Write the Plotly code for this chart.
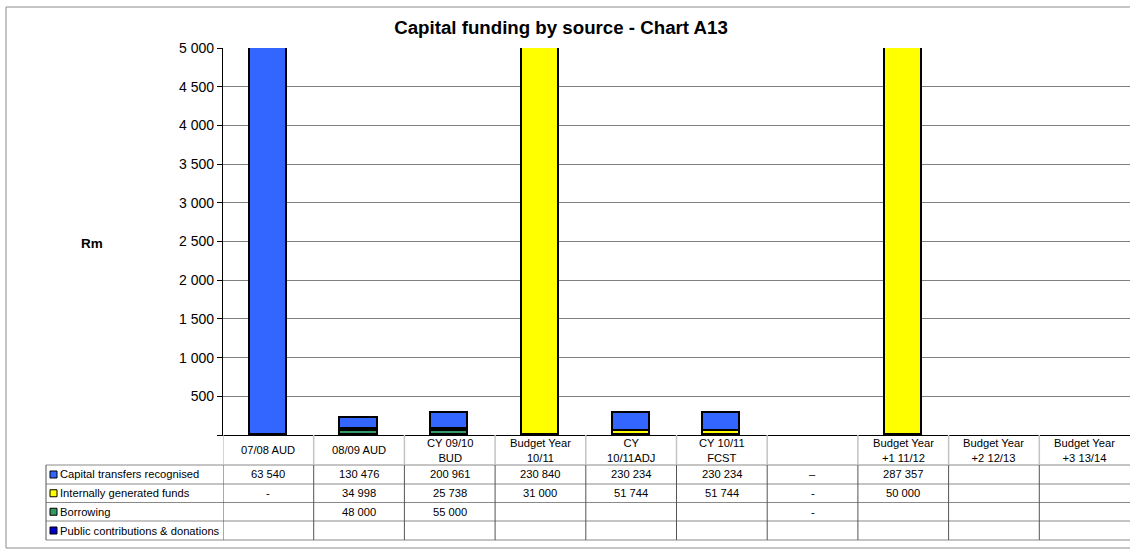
import plotly.graph_objects as go

# Column headings of the data table (one per bar position)
categories = [
    "07/08 AUD", "08/09 AUD", "CY 09/10<br>BUD", "Budget Year<br>10/11",
    "CY<br>10/11ADJ", "CY 10/11<br>FCST", "", "Budget Year<br>+1 11/12",
    "Budget Year<br>+2 12/13", "Budget Year<br>+3 13/14",
]

# Funding by source as captured on the sheet (None = blank cell, 0 = dash)
capital_transfers = [63540, 130476, 200961, 230840, 230234, 230234, 0, 287357, None, None]
internal_funds = [0, 34998, 25738, 31000, 51744, 51744, 0, 50000, None, None]
borrowing = [None, 48000, 55000, None, None, None, 0, None, None, None]
public_contributions = [None, None, None, None, None, None, None, None, None, None]

# The sheet feeds some columns to the chart in R'000 and others already in Rm
plot_divisor = [1, 1000, 1000, 1, 1000, 1000, 1000, 1, 1000, 1000]

series_names = [
    "Capital transfers recognised",
    "Internally generated funds",
    "Borrowing",
    "Public contributions & donations",
]
series_colors = ["#3366FF", "#FFFF00", "#339966", "#0000CC"]
series_values = [capital_transfers, internal_funds, borrowing, public_contributions]
dash_glyph = ["\u2013", "-", "-", "-"]

y_ticks = [0, 500, 1000, 1500, 2000, 2500, 3000, 3500, 4000, 4500, 5000]

FONT = "Arial, 'Liberation Sans', sans-serif"
W, H = 1130, 552
L, T, B = 223, 48, 435          # plot area edges in pixels
PW, PH = W - L, B - T
TXT = 11.2


def px_x(px):
    return (px - L) / PW


def px_y(py):
    return (B - py) / PH


def scaled(vals):
    # dashes and blanks draw no segment
    return [None if not v else v / d for v, d in zip(vals, plot_divisor)]


def fmt(v, dash):
    if v is None:
        return ""
    if v == 0:
        return dash
    return f"{v:,}".replace(",", " ")


x = list(range(len(categories)))
fig = go.Figure()

# stacked bottom to top: borrowing, internal funds, capital transfers, contributions
for idx in [2, 1, 0, 3]:
    fig.add_trace(go.Bar(
        x=x, y=scaled(series_values[idx]), name=series_names[idx],
        marker=dict(color=series_colors[idx], line=dict(color="black", width=1.6)),
        width=0.41, showlegend=False,
    ))

shapes = []
annotations = []

# outer chart border (right side runs past the page edge)
shapes.append(dict(type="rect", xref="paper", yref="paper",
                   x0=px_x(6), x1=px_x(1140), y0=px_y(548), y1=px_y(7),
                   line=dict(color="#8c8c8c", width=1), layer="below"))

# data table grid
row_edges = [465, 484, 502.5, 521, 540]
for py in row_edges:
    shapes.append(dict(type="line", xref="paper", yref="paper",
                       x0=px_x(46), x1=1, y0=px_y(py), y1=px_y(py),
                       line=dict(color="#8a8a8a", width=1)))
shapes.append(dict(type="line", xref="paper", yref="paper",
                   x0=px_x(46), x1=px_x(46), y0=px_y(465), y1=px_y(540),
                   line=dict(color="#555555", width=1)))
for i in range(len(categories)):
    xb = i - 0.5
    shapes.append(dict(type="line", xref="x", yref="paper",
                       x0=xb, x1=xb, y0=px_y(435), y1=px_y(465),
                       line=dict(color="#c4c4c4", width=1.5)))
    shapes.append(dict(type="line", xref="x", yref="paper",
                       x0=xb, x1=xb, y0=px_y(465), y1=px_y(540),
                       line=dict(color="#555555", width=1)))

# header row labels
for i, c in enumerate(categories):
    annotations.append(dict(text=c, x=i, y=px_y(450), xref="x", yref="paper",
                            showarrow=False, xanchor="center", yanchor="middle",
                            font=dict(family=FONT, size=TXT, color="black")))

# series rows: legend key, name and values
for r, (name, color, vals) in enumerate(zip(series_names, series_colors, series_values)):
    yc = (row_edges[r] + row_edges[r + 1]) / 2
    shapes.append(dict(type="rect", xref="paper", yref="paper",
                       x0=px_x(50), x1=px_x(57), y0=px_y(yc + 3.5), y1=px_y(yc - 3.5),
                       fillcolor=color, line=dict(color="black", width=1)))
    annotations.append(dict(text=name, x=px_x(58), y=px_y(yc), xref="paper", yref="paper",
                            showarrow=False, xanchor="left", yanchor="middle",
                            font=dict(family=FONT, size=TXT, color="black")))
    for i, v in enumerate(vals):
        t = fmt(v, dash_glyph[r])
        if t:
            annotations.append(dict(text=t, x=i, y=px_y(yc), xref="x", yref="paper",
                                    showarrow=False, xanchor="center", yanchor="middle",
                                    font=dict(family=FONT, size=TXT, color="black")))

# axis title
annotations.append(dict(text="<b>Rm</b>", x=px_x(92), y=px_y(243), xref="paper", yref="paper",
                        showarrow=False, xanchor="center", yanchor="middle",
                        font=dict(family=FONT, size=13.5, color="black")))

fig.update_layout(
    width=W, height=H,
    margin=dict(l=L, r=0, t=T, b=H - B, pad=0),
    paper_bgcolor="white", plot_bgcolor="white",
    barmode="stack", bargap=0,
    title=dict(text="<b>Capital funding by source - Chart A13</b>",
               x=561 / W, xanchor="center",
               y=1 - 27 / H, yanchor="middle",
               font=dict(family=FONT, size=18.7, color="black")),
    shapes=shapes, annotations=annotations,
    xaxis=dict(range=[-0.5, len(categories) - 0.5], showticklabels=False,
               showline=True, linecolor="black", linewidth=1.2,
               showgrid=False, zeroline=False, ticks=""),
    yaxis=dict(range=[0, 5000], tickvals=y_ticks,
               ticktext=["" if v == 0 else f"{v:,}".replace(",", " ") for v in y_ticks],
               ticks="outside", ticklen=5, tickcolor="black", tickwidth=1,
               showline=True, linecolor="black", linewidth=1.2,
               showgrid=True, gridcolor="#808080", gridwidth=1, zeroline=False,
               tickfont=dict(family=FONT, size=14, color="black")),
)

fig.write_html("out.html")
